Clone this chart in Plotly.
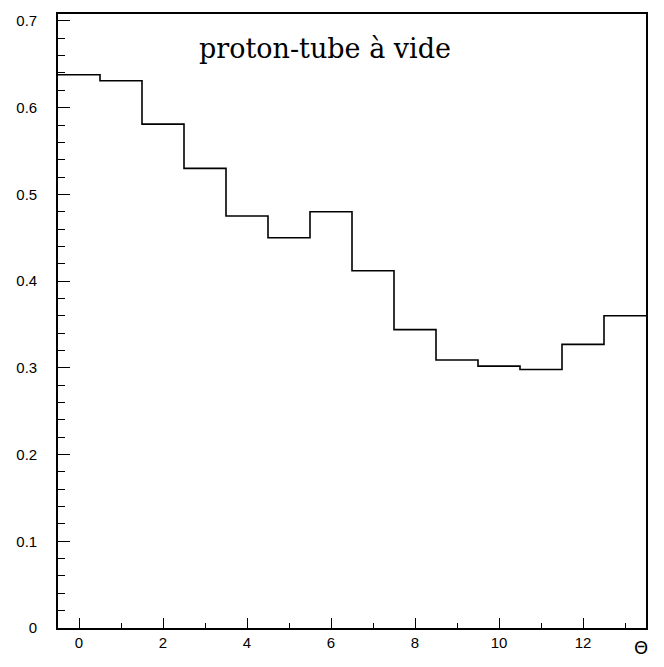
import plotly.graph_objects as go

# Data (bins centered on integer Theta)
theta_centers = [0, 1, 2, 3, 4, 5, 6, 7, 8, 9, 10, 11, 12, 13]
values = [0.638, 0.631, 0.581, 0.530, 0.475, 0.450, 0.480, 0.412,
          0.344, 0.309, 0.302, 0.298, 0.327, 0.360]
y_ticks = [0, 0.1, 0.2, 0.3, 0.4, 0.5, 0.6, 0.7]
x_ticks = [0, 2, 4, 6, 8, 10, 12]
title_text = "proton-tube à vide"
x_label = "Θ"

# bin edges for a step histogram
edges = [c - 0.5 for c in theta_centers] + [theta_centers[-1] + 0.5]
step_y = values + [values[-1]]

fig = go.Figure()
fig.add_trace(go.Scatter(
    x=edges, y=step_y, mode="lines", line=dict(shape="hv", color="black", width=1.6),
    showlegend=False, hoverinfo="skip"))

tick_font = dict(family="Liberation Sans, Arial, sans-serif", size=15, color="black")

# the page body has an 8px default margin; size the figure so it fits the window
fig.update_layout(
    width=656, height=651,
    margin=dict(l=50, r=18, t=4, b=31),
    paper_bgcolor="white", plot_bgcolor="white",
    showlegend=False,
    xaxis=dict(
        range=[-0.5, 13.5], tickmode="array", tickvals=x_ticks,
        ticks="inside", ticklen=10, tickwidth=1.3, tickcolor="black",
        minor=dict(dtick=1, tick0=0, ticks="inside", ticklen=5, tickwidth=1.3, tickcolor="black"),
        showline=True, linecolor="black", linewidth=1.6, mirror=True,
        showgrid=False, zeroline=False, tickfont=tick_font,
    ),
    yaxis=dict(
        range=[0, 0.708], tickmode="array", tickvals=y_ticks,
        ticks="inside", ticklen=12, tickwidth=1.3, tickcolor="black",
        minor=dict(dtick=0.02, tick0=0, ticks="inside", ticklen=7, tickwidth=1.3, tickcolor="black"),
        showline=True, linecolor="black", linewidth=1.6, mirror=True,
        showgrid=False, zeroline=False, tickfont=tick_font, ticklabelstandoff=16,
    ),
    annotations=[
        dict(text=title_text, xref="paper", yref="paper", x=0.454, y=0.943,
             xanchor="center", yanchor="middle", showarrow=False,
             font=dict(family="DejaVu Serif, Liberation Serif, serif", size=27, color="black")),
        dict(text=x_label, xref="paper", yref="paper", x=0.9915, y=-0.031,
             xanchor="center", yanchor="middle", showarrow=False,
             font=dict(family="DejaVu Sans, sans-serif", size=18, color="black")),
    ],
)

fig.write_html("out.html")
